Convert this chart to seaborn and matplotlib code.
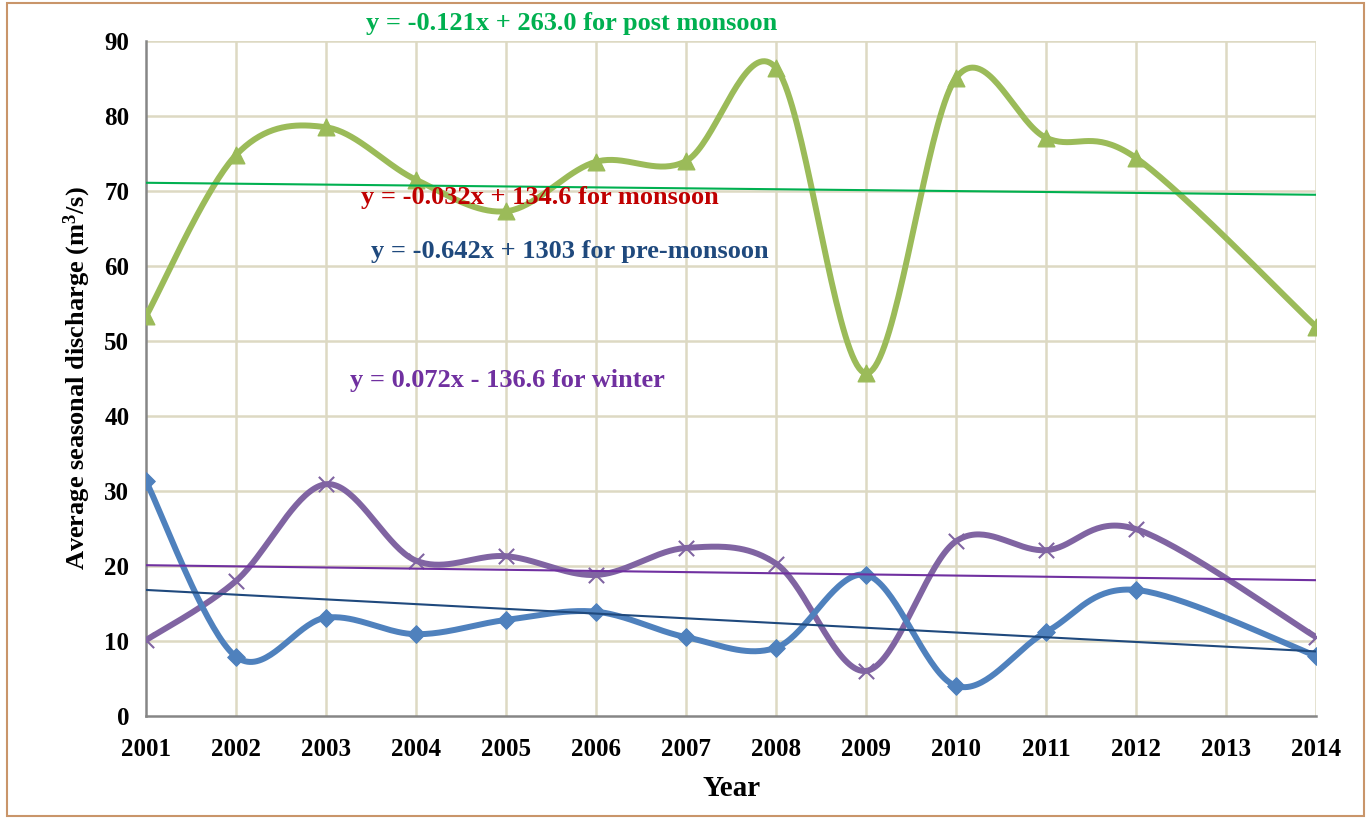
import numpy as np
import pandas as pd
import matplotlib
matplotlib.use("Agg")
import matplotlib.pyplot as plt
import seaborn as sns

# data (2013 has no value)
years = [2001, 2002, 2003, 2004, 2005, 2006, 2007, 2008, 2009, 2010, 2011, 2012, 2014]
post_monsoon = [53.3, 74.8, 78.5, 71.5, 67.3, 73.9, 74.0, 86.4, 45.7, 85.1, 77.1, 74.4, 51.9]
pre_monsoon = [31.3, 7.9, 13.1, 10.9, 12.8, 13.9, 10.5, 9.1, 18.8, 4.0, 11.2, 16.8, 8.0]
winter = [10.1, 18.0, 30.9, 20.7, 21.3, 18.8, 22.4, 20.3, 6.0, 23.3, 22.1, 24.9, 10.5]

# trend lines as drawn (value at 2001, value at 2014)
trend_years = [2001, 2014]
trend_post = [71.1, 69.5]
trend_pre = [16.8, 8.6]
trend_winter = [20.1, 18.1]

tick_years = list(range(2001, 2015))


def smooth(x, y, n=40):
    # Excel-like smoothed line: Catmull-Rom segments as cubic Bezier
    p = np.column_stack([x, y]).astype(float)
    pts = np.vstack([p[0], p, p[-1]])
    out = []
    t = np.linspace(0, 1, n)[:, None]
    for i in range(1, len(pts) - 2):
        p0, p1, p2, p3 = pts[i - 1], pts[i], pts[i + 1], pts[i + 2]
        c1 = p1 + (p2 - p0) / 6
        c2 = p2 - (p3 - p1) / 6
        seg = ((1 - t) ** 3) * p1 + 3 * ((1 - t) ** 2) * t * c1 + 3 * (1 - t) * t ** 2 * c2 + t ** 3 * p2
        out.append(seg)
    s = np.vstack(out)
    return s[:, 0], s[:, 1]


sns.set_theme(style="white")
plt.rcParams['font.family'] = ['Liberation Serif', 'DejaVu Serif']
plt.rcParams['font.weight'] = 'bold'
plt.rcParams['text.color'] = 'black'
plt.rcParams['axes.labelcolor'] = 'black'
plt.rcParams['xtick.color'] = 'black'
plt.rcParams['ytick.color'] = 'black'
plt.rcParams['mathtext.fontset'] = 'custom'
plt.rcParams['mathtext.bf'] = 'Liberation Serif:bold'
plt.rcParams['mathtext.rm'] = 'Liberation Serif:bold'

fig = plt.figure(figsize=(13.71, 8.21), dpi=100)
ax = fig.add_axes([0.1065, 0.128, 0.8535, 0.822])

grid_c = '#ddd9c3'
for yv in range(10, 100, 10):
    ax.axhline(yv, color=grid_c, lw=1.8, zorder=0)
for xv in tick_years[1:]:
    ax.axvline(xv, color=grid_c, lw=1.8, zorder=0)

series = [
    (post_monsoon, '#9bbb59', '^', 12),
    (winter, '#8064a2', 'x', 11),
    (pre_monsoon, '#4f81bd', 'D', 9),
]
for vals, col, mk, ms in series:
    sx, sy = smooth(years, vals)
    df = pd.DataFrame({'year': sx, 'value': sy})
    sns.lineplot(data=df, x='year', y='value', sort=False, color=col, lw=4.3, ax=ax, zorder=3)
    pts = pd.DataFrame({'year': years, 'value': vals})
    if mk == 'x':
        ax.scatter(pts['year'], pts['value'], marker='x', s=ms ** 2, color=col, linewidths=1.5, zorder=4)
    else:
        sns.scatterplot(data=pts, x='year', y='value', marker=mk, s=ms ** 2, color=col,
                        edgecolor=col, ax=ax, zorder=4)

for tv, col in [(trend_post, '#00b050'), (trend_pre, '#1f497d'), (trend_winter, '#7030a0')]:
    sns.lineplot(x=trend_years, y=tv, color=col, lw=1.5, ax=ax, zorder=5)

ax.set_xlim(2001, 2014)
ax.set_ylim(0, 90)
ax.set_xticks(tick_years)
ax.set_yticks(range(0, 100, 10))
ax.tick_params(axis='both', labelsize=18, length=6, width=1.5, color='#868686', direction='out', pad=6)
ax.tick_params(axis='x', pad=10)
for lab in ax.get_xticklabels() + ax.get_yticklabels():
    lab.set_fontweight('bold')
for side in ['top', 'right']:
    ax.spines[side].set_visible(False)
for side in ['left', 'bottom']:
    ax.spines[side].set_color('#868686')
    ax.spines[side].set_linewidth(1.8)

ax.set_xlabel('Year', fontsize=21, fontweight='bold', labelpad=10)
ax.set_ylabel('Average seasonal discharge (m$\\mathbf{^3}$/s)', fontsize=19, fontweight='bold', labelpad=8)

ax.text(2005.73, 92.3, 'y = -0.121x + 263.0 for post monsoon', color='#00b050', fontsize=19,
        fontweight='bold', ha='center', va='center', clip_on=False)
ax.text(2005.38, 69.2, 'y = -0.032x + 134.6 for monsoon', color='#c00000', fontsize=19,
        fontweight='bold', ha='center', va='center', zorder=6)
ax.text(2005.71, 61.9, 'y = -0.642x + 1303 for pre-monsoon', color='#1f497d', fontsize=19,
        fontweight='bold', ha='center', va='center', zorder=6)
ax.text(2005.02, 44.7, 'y = 0.072x - 136.6 for winter', color='#7030a0', fontsize=19,
        fontweight='bold', ha='center', va='center', zorder=6)

border = plt.Rectangle((0.005, 0.006), 0.99, 0.99, transform=fig.transFigure, fill=False,
                       edgecolor='#c9956a', lw=1.5)
fig.patches.append(border)

fig.savefig('out.png', dpi=100)
